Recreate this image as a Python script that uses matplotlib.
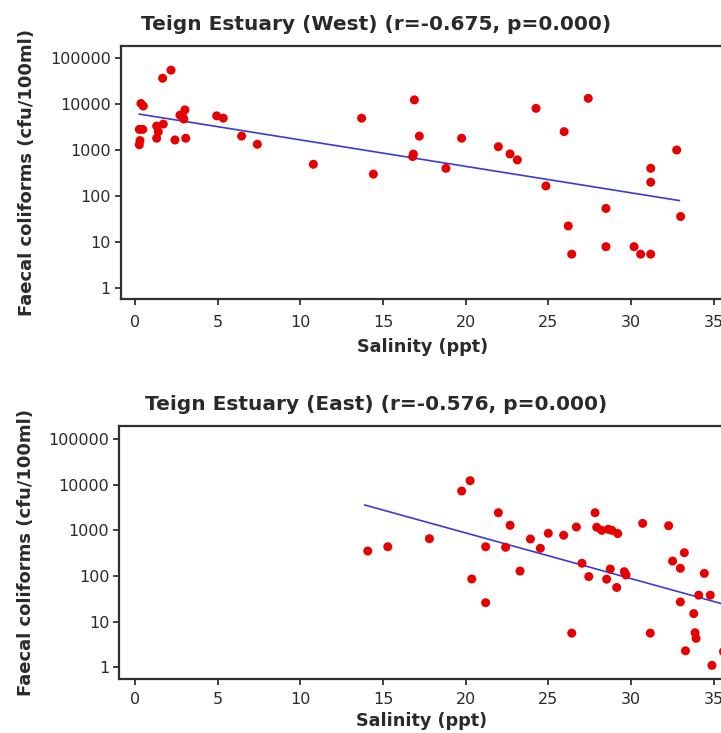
import numpy as np
import matplotlib
matplotlib.use("Agg")
import matplotlib.pyplot as plt

# West side of the estuary: salinity (ppt) vs faecal coliforms (cfu/100ml)
west_salinity = [0.36, 0.50, 0.26, 0.47, 0.26, 0.30, 1.31, 1.71, 1.41, 1.31,
                 1.67, 2.18, 2.42, 3.07, 3.02, 2.72, 2.88, 2.95, 4.94, 5.34,
                 6.45, 7.40, 10.79, 13.71, 14.42, 16.90, 17.20, 16.84, 16.80, 18.81,
                 19.76, 21.98, 22.69, 23.13, 24.26, 27.42, 25.96, 24.86, 28.49, 26.21,
                 26.42, 28.49, 30.19, 30.59, 31.20, 31.20, 31.20, 32.77, 33.01]
west_fc = [10200, 9000, 2800, 2800, 1300, 1600, 3300, 3650, 2500, 1800,
           36000, 54000, 1650, 1800, 7400, 5700, 5300, 4700, 5500, 4900,
           2000, 1330, 490, 4900, 300, 12200, 2000, 815, 720, 400,
           1800, 1180, 820, 610, 8000, 13200, 2500, 166, 54, 22.5,
           5.5, 8, 8, 5.5, 5.5, 400, 200, 1000, 36]
west_fit_x = [0.26, 32.93]
west_fit_y = [6000, 80]

# East side
east_salinity = [14.08, 15.29, 17.81, 19.76, 20.27, 21.98, 22.69, 21.21, 22.42, 20.37,
                 21.21, 23.29, 23.92, 24.52, 25.00, 25.93, 26.70, 27.83, 27.93, 28.23,
                 28.63, 28.84, 29.20, 27.04, 27.45, 26.42, 28.75, 28.53, 29.14, 29.60,
                 29.70, 30.71, 31.17, 32.28, 32.52, 33.23, 32.99, 34.44, 32.99, 34.10,
                 34.80, 33.80, 33.88, 33.94, 33.30, 34.90, 35.60]
east_fc = [352, 437, 656, 7250, 12200, 2430, 1290, 437, 425, 86,
           26, 128, 645, 404, 860, 780, 1180, 2430, 1170, 1000,
           1050, 1000, 850, 190, 97, 5.6, 142, 85, 56, 124,
           105, 1420, 5.6, 1260, 212, 323, 147, 114, 27, 38,
           38, 15, 5.7, 4.3, 2.3, 1.1, 2.2]
east_fit_x = [13.9, 36.0]
east_fit_y = [3580, 22]

titles = ["Teign Estuary (West) (r=-0.675, p=0.000)",
          "Teign Estuary (East) (r=-0.576, p=0.000)"]
xticks = [0, 5, 10, 15, 20, 25, 30, 35]
yticks = [1, 10, 100, 1000, 10000, 100000]
ytick_labels = ["1", "10", "100", "1000", "10000", "100000"]

W, H = 721, 733
fig = plt.figure(figsize=(W / 100, H / 100), dpi=100)
fig.patch.set_facecolor("white")

spine_col = "#303030"
text_col = "#2a2a2a"

# axes boxes in pixels: left, top, right, bottom, xmin, ymin, ymax, title y, tick pad, xlabel pad
panels = [
    (west_salinity, west_fc, west_fit_x, west_fit_y, 120.7, 45.7, 725, 299.3, -0.865, 0.577, 182900, 25, 7, 6),
    (east_salinity, east_fc, east_fit_x, east_fit_y, 119.0, 425.7, 725, 679.0, -0.97, 0.554, 195500, 405, 5.5, 3.5),
]

for i, (sx, fc, fx, fy, l, t, r, b, xmin, ymin, ymax, ty, tpad, xpad) in enumerate(panels):
    ax = fig.add_axes([l / W, 1 - b / H, (r - l) / W, (b - t) / H])
    xmax = xmin + (r - l) / 16.53
    ax.set_yscale("log")
    ax.set_xlim(xmin, xmax)
    ax.set_ylim(ymin, ymax)

    ax.scatter(sx, fc, s=42, color="#e60000", edgecolors="none", zorder=3, clip_on=False)
    ax.plot(fx, fy, color="#3a3ad6", lw=1.2, zorder=2)

    ax.set_xticks(xticks)
    ax.set_xticklabels([str(v) for v in xticks])
    ax.set_yticks(yticks)
    ax.set_yticklabels(ytick_labels)
    ax.yaxis.set_minor_locator(matplotlib.ticker.NullLocator())
    ax.tick_params(direction="out", length=4, width=1.3, color=spine_col,
                   labelsize=11.5, labelcolor=text_col, pad=3)
    ax.tick_params(axis="x", pad=tpad)

    for side in ["left", "bottom", "top"]:
        ax.spines[side].set_color(spine_col)
        ax.spines[side].set_linewidth(1.6)
    ax.spines["right"].set_visible(False)

    ax.set_xlabel("Salinity (ppt)", fontsize=12.7, fontweight="bold", color=text_col, labelpad=xpad)
    ax.set_ylabel("Faecal coliforms (cfu/100ml)", fontsize=13, fontweight="bold",
                  color=text_col, labelpad=10)
    fig.text(376 / W, 1 - ty / H, titles[i], ha="center", va="center",
             fontsize=14.5, fontweight="bold", color=text_col)

fig.savefig("out.png", dpi=100)
